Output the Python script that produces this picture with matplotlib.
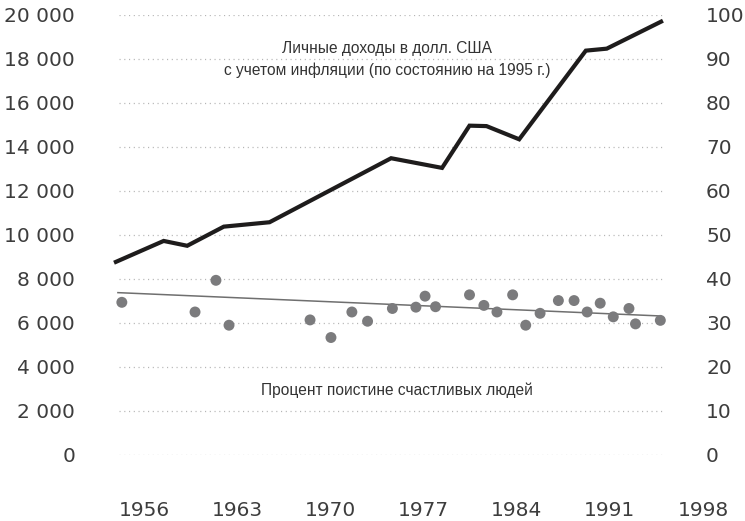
import matplotlib
matplotlib.use("Agg")
import matplotlib.pyplot as plt
import numpy as np

# ---- data ----
income_years = [1956.0, 1959.8, 1961.6, 1964.4, 1967.9, 1977.2, 1981.1,
                1983.2, 1984.5, 1987.0, 1992.1, 1993.7, 1998.0]
income_values = [8740, 9730, 9510, 10380, 10580, 13490, 13050,
                 14970, 14950, 14350, 18380, 18470, 19740]

happy_years = [1956.6, 1962.2, 1963.8, 1964.8, 1971.0, 1972.6, 1974.2, 1975.4,
               1977.3, 1979.1, 1979.8, 1980.6, 1983.2, 1984.3, 1985.3, 1986.5,
               1987.5, 1988.6, 1990.0, 1991.2, 1992.2, 1993.2, 1994.2, 1995.4,
               1995.9, 1997.8]
happy_values = [34.7, 32.5, 39.7, 29.5, 30.7, 26.7, 32.5, 30.4,
                33.3, 33.6, 36.1, 33.7, 36.4, 34.0, 32.5, 36.4,
                29.5, 32.2, 35.1, 35.1, 32.5, 34.5, 31.4, 33.3,
                29.8, 30.6]

trend_years = [1956.3, 1997.8]
trend_values = [36.9, 31.6]

x_labels = ["1956", "1963", "1970", "1977", "1984", "1991", "1998"]
left_ticks = list(range(0, 20001, 2000))
left_labels = [f"{v:,}".replace(",", " ") for v in left_ticks]
right_ticks = list(range(0, 101, 10))

income_label = "Личные доходы в долл. США\nс учетом инфляции (по состоянию на 1995 г.)"
happy_label = "Процент поистине счастливых людей"

# ---- figure ----
W, H = 745, 521
fig = plt.figure(figsize=(W / 100, H / 100), dpi=100)
ax_l, ax_r, ax_t, ax_b = 114, 704, 15, 455
ax = fig.add_axes([ax_l / W, 1 - ax_b / H, (ax_r - ax_l) / W, (ax_b - ax_t) / H])
ax2 = ax.twinx()

px_per_year = 13.07
x0 = 1956.0
ax.set_xlim(x0, x0 + (ax_r - ax_l) / px_per_year)
ax.set_ylim(0, 20000)
ax2.set_ylim(0, 100)

for a in (ax, ax2):
    for s in a.spines.values():
        s.set_visible(False)
    a.set_facecolor("none")

tick_color = "#3d3d3d"
tick_font = dict(family="DejaVu Sans", size=14.5)

# gridlines (dotted)
g_x0 = x0 + (119 - ax_l) / px_per_year
g_x1 = x0 + (663 - ax_l) / px_per_year
ax.hlines(left_ticks, g_x0, g_x1, colors="#b5b5b5", linewidth=0.9,
          linestyles=(0, (0.9, 2.9)), zorder=1)

# y ticks
ax.set_yticks(left_ticks)
ax.set_yticklabels(left_labels, color=tick_color, **tick_font)
ax.tick_params(axis="y", length=0, pad=28)
ax2.set_yticks(right_ticks)
ax2.set_yticklabels([str(v) for v in right_ticks], color=tick_color, **tick_font)
ax2.tick_params(axis="y", length=0, pad=1.5)

# x ticks: label positions as drawn in the reference
first_px, last_px = 144, 703
tick_pos = np.linspace(x0 + (first_px - ax_l) / px_per_year,
                       x0 + (last_px - ax_l) / px_per_year, len(x_labels))
ax.set_xticks(tick_pos)
ax.set_xticklabels(x_labels, color=tick_color, **tick_font)
ax.tick_params(axis="x", length=0, pad=33)
ax2.tick_params(axis="x", length=0)

# marks
ax.plot(income_years, income_values, color="#1e1c1c", linewidth=3.0,
        solid_joinstyle="miter", solid_capstyle="butt", zorder=5, clip_on=False)
ax2.plot(trend_years, trend_values, color="#6f6f6f", linewidth=1.1, zorder=3)
ax2.scatter(happy_years, happy_values, s=62, color="#7b7b7d", edgecolors="none",
            zorder=4)

# annotations
ann_font = dict(fontsize=11.2, family=["Liberation Sans", "DejaVu Sans"],
                color="#333333")
fig.text(387 / W, 1 - 59.5 / H, income_label, ha="center", va="center",
         linespacing=1.45, **ann_font)
fig.text(397 / W, 1 - 390 / H, happy_label, ha="center", va="center",
         **ann_font)

fig.savefig("out.png", dpi=100)
